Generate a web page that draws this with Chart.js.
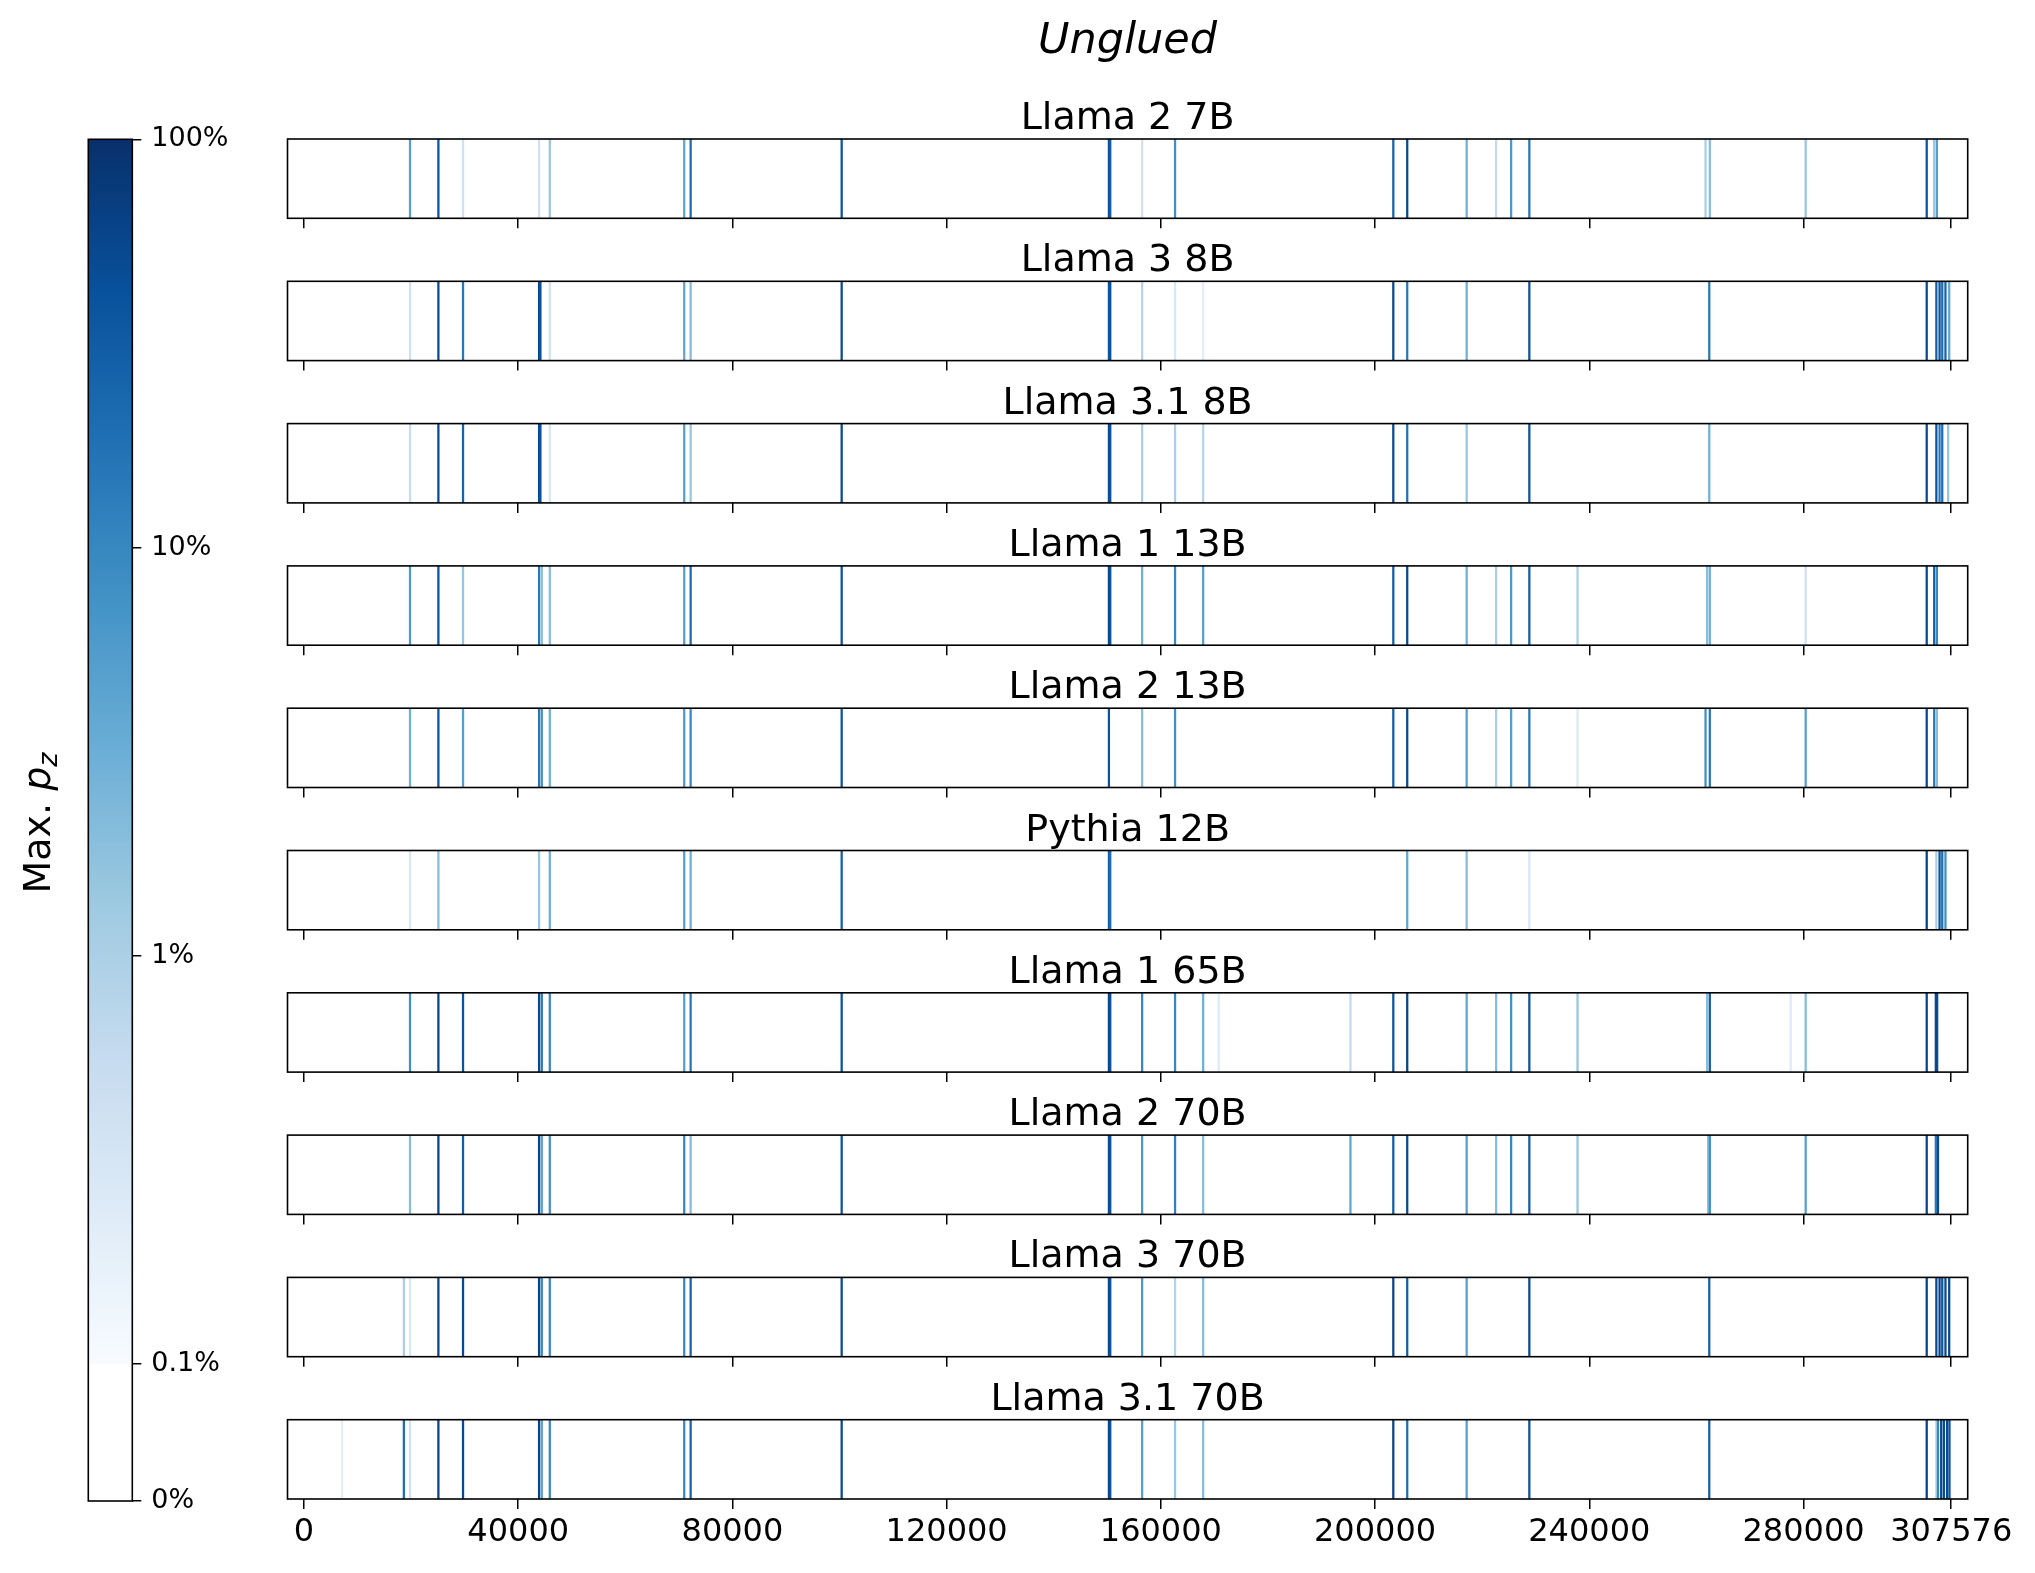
<!DOCTYPE html>
<html><head><meta charset="utf-8">
<script src="https://cdn.jsdelivr.net/npm/chart.js@4.4.1/dist/chart.umd.min.js"></script>
<style>
html,body{margin:0;padding:0;background:#fff;}
body{width:2035px;height:1573px;position:relative;overflow:hidden;}
canvas{position:absolute;left:0;}
</style></head><body>
<script>
// ---------------- data ----------------
const figureTitle = 'Unglued';
const modelNames = ['Llama 2 7B','Llama 3 8B','Llama 3.1 8B','Llama 1 13B','Llama 2 13B','Pythia 12B','Llama 1 65B','Llama 2 70B','Llama 3 70B','Llama 3.1 70B'];
const xTickValues = [0, 40000, 80000, 120000, 160000, 200000, 240000, 280000, 307576];
const colorbarTickValues = [0, 0.1, 1, 10, 100];          // percent
const colorbarTickLabels = ['0%', '0.1%', '1%', '10%', '100%'];
const colorbarLabel = 'Max. ';

// token positions and max p_z (percent) per model
const pos_llama2_7b = [19800,25100,29700,43900,45900,71000,72200,100400,150300,150550,156500,162650,203400,206000,217100,222600,225400,228800,261700,262500,280400,303000,304400,304900];
const pz_llama2_7b  = [5,40,0.4,0.4,1.5,4,20,40,50,30,0.4,8,25,50,3,0.6,6,15,1,2,1.5,40,1.5,5];

const pos_llama3_8b = [19800,25100,29700,43900,44150,45900,71000,72200,100400,150300,150550,156500,162650,167900,203400,206000,217100,228800,262400,303000,304800,305400,305900,306500,307200];
const pz_llama3_8b  = [0.4,50,15,60,40,0.4,4,2,50,40,40,0.8,0.3,0.2,50,15,3,40,15,50,30,40,20,25,4];

const pos_llama31_8b = [19800,25100,29700,43900,44150,45900,71000,72200,100400,150300,150550,156500,162650,167900,203400,206000,217100,228800,262400,303000,304800,305400,305900,307000];
const pz_llama31_8b  = [0.5,50,25,50,40,0.3,5,1.5,50,50,40,1,1,0.8,50,18,1.5,40,3,50,40,15,20,1.5];

const pos_llama1_13b = [19800,25100,29700,43900,44400,45900,71000,72200,100400,150300,150550,156500,162650,167900,203400,206000,217100,222600,225400,228800,237800,262000,262500,280400,303000,304400,304900];
const pz_llama1_13b  = [6,40,1.5,15,2,2,5,20,40,60,40,3,10,5,30,50,3,1,6,30,1,2,3,0.4,50,30,10];

const pos_llama2_13b = [19800,25100,29700,43900,44400,45900,71000,72200,100400,150300,156500,162650,203400,206000,217100,222600,225400,228800,237800,261700,262500,280400,303000,304400,304900];
const pz_llama2_13b  = [3,40,5,15,8,3,6,10,40,40,2,8,30,50,5,1,5,15,0.25,8,15,5,50,15,2];

const pos_pythia_12b = [19800,25100,43900,45900,71000,72200,100400,150300,150550,206000,217100,228800,303000,304800,305400,305900,306500];
const pz_pythia_12b  = [0.3,2,1.5,3,5,3,30,30,20,4,2,0.3,60,1,40,20,8];

const pos_llama1_65b = [19800,25100,29700,43900,44400,45900,71000,72200,100400,150300,150550,156500,162650,167900,170800,195400,203400,206000,217100,222600,225400,228800,237800,262000,262500,277600,280400,303000,304700,304950];
const pz_llama1_65b  = [8,60,40,50,15,10,5,15,40,60,40,10,10,3,0.25,0.6,40,60,4,2,8,40,1.5,2,30,0.25,2,60,50,50];

const pos_llama2_70b = [19800,25100,29700,43900,44400,45900,71000,72200,100400,150300,150550,156500,162650,167900,195400,203400,206000,217100,222600,225400,228800,237800,262200,262500,280400,303000,304700,305100];
const pz_llama2_70b  = [2,60,30,60,5,8,10,2,40,50,40,6,12,2,4,30,50,5,2,10,30,1.5,2,8,5,60,15,50];

const pos_llama3_70b = [18650,19800,25100,29700,43900,44400,45900,71000,72200,100400,150300,150550,156500,162650,167900,203400,206000,217100,228800,262400,303000,304800,305400,305900,306500,307200];
const pz_llama3_70b  = [1,0.3,60,50,60,10,10,10,25,50,60,40,6,0.8,2,60,30,5,50,30,60,50,60,40,50,50];

const pos_llama31_70b = [7100,18650,19800,25100,29700,43900,44400,45900,71000,72200,100400,150300,150550,156500,162650,167900,203400,206000,217100,228800,262400,303000,304800,305100,305700,306200,306800,307250];
const pz_llama31_70b  = [0.2,20,0.4,60,50,60,5,10,10,25,50,60,40,5,1.5,2,60,20,5,40,30,60,0.8,10,50,50,50,40];

const stripPositions = [pos_llama2_7b,pos_llama3_8b,pos_llama31_8b,pos_llama1_13b,pos_llama2_13b,pos_pythia_12b,pos_llama1_65b,pos_llama2_70b,pos_llama3_70b,pos_llama31_70b];
const stripValues = [pz_llama2_7b,pz_llama3_8b,pz_llama31_8b,pz_llama1_13b,pz_llama2_13b,pz_pythia_12b,pz_llama1_65b,pz_llama2_70b,pz_llama3_70b,pz_llama31_70b];

// ---------------- layout / style ----------------
const W = 2035, H = 1573;
const FONT = "'DejaVu Sans', 'Liberation Sans', sans-serif";
const PLOT_LEFT = 287.5, PLOT_RIGHT = 1967.7;
const STRIP_TOP0 = 139, STRIP_PITCH = 142.3, STRIP_H = 79.3;
const X_MIN = -3076, X_MAX = 310652;
const CB_LEFT = 88.3, CB_RIGHT = 132.3, CB_TOP = 139.3, CB_BOTTOM = 1501;
const CB_LIN = 137 / 1362;   // fraction of colorbar used by linear part 0..0.1%

const BLUES = ['#f7fbff','#deebf7','#c6dbef','#9ecae1','#6baed6','#4292c6','#2171b5','#08519c','#08306b'];
function hex2rgb(h){return [parseInt(h.slice(1,3),16),parseInt(h.slice(3,5),16),parseInt(h.slice(5,7),16)];}
function blues(t){
  t = Math.min(1, Math.max(0, t));
  const s = t * 8, i = Math.min(7, Math.floor(s)), f = s - i;
  const a = hex2rgb(BLUES[i]), b = hex2rgb(BLUES[i+1]);
  const c = a.map((v,k)=>Math.round(v + (b[k]-v)*f));
  return `rgb(${c[0]},${c[1]},${c[2]})`;
}
function pzColor(pct){
  const f = pct/100;
  if (f < 0.001) return '#ffffff';
  return blues((Math.log10(f)+3)/3);
}
function cbPos(pct){
  const f = pct/100;
  if (f <= 0.001) return CB_LIN * f / 0.001;
  return CB_LIN + (1-CB_LIN) * (Math.log10(f)+3)/3;
}

const framePlugin = {
  id:'frame',
  afterDatasetsDraw(chart){
    const {ctx, chartArea:a} = chart;
    ctx.save(); ctx.strokeStyle='#000'; ctx.lineWidth=1.6;
    ctx.strokeRect(a.left, a.top, a.right-a.left, a.bottom-a.top);
    ctx.restore();
  }
};

function addCanvas(top, height){
  const c = document.createElement('canvas');
  c.width = W; c.height = height;
  c.style.top = top + 'px'; c.style.width = W+'px'; c.style.height = height+'px';
  document.body.appendChild(c);
  return c;
}

// ---------------- strips ----------------
stripPositions.forEach((positions, i) => {
  const last = i === stripPositions.length - 1;
  const T = STRIP_TOP0 + i*STRIP_PITCH;
  const cssTop = Math.round(T) - 60;
  const padTop = T - cssTop;
  const axisH = last ? 64 : 14;
  const canvasH = Math.ceil(padTop + STRIP_H + axisH + 2);
  const padBottom = canvasH - padTop - STRIP_H - axisH;
  const cv = addCanvas(cssTop, canvasH);
  const vals = stripValues[i];
  const titlePlugin = {
    id:'stripTitle',
    afterDraw(chart){
      const {ctx, chartArea:a} = chart;
      ctx.save(); ctx.fillStyle='#000'; ctx.font = `38px ${FONT}`;
      ctx.textAlign='center'; ctx.textBaseline='alphabetic';
      ctx.fillText(modelNames[i], (a.left+a.right)/2, a.top - 10);
      ctx.restore();
    }
  };
  new Chart(cv, {
    type:'bar',
    data:{datasets:[{
      data: positions.map((p,k)=>({x:p, y:1})),
      backgroundColor: vals.map(pzColor),
      borderWidth:0, barThickness:1.6, grouped:false
    }]},
    options:{
      animation:false, responsive:false, devicePixelRatio:1,
      layout:{padding:{left:PLOT_LEFT, right:W-PLOT_RIGHT, top:padTop, bottom:padBottom}},
      plugins:{legend:{display:false}, tooltip:{enabled:false}, title:{display:false}},
      scales:{
        x:{type:'linear', min:X_MIN, max:X_MAX, offset:false,
           afterBuildTicks:s=>{ s.ticks = xTickValues.map(v=>({value:v})); },
           afterFit:s=>{ s.height = axisH; },
           grid:{display:true, offset:false, drawOnChartArea:false, drawTicks:true, tickLength:10, color:'#000', lineWidth:1.5},
           border:{display:false},
           ticks:{display:last, color:'#000', font:{family:FONT, size:32}, padding:4, autoSkip:false, maxRotation:0, minRotation:0,
                  callback:v=>String(v)}
        },
        y:{display:false, min:0, max:1}
      }
    },
    plugins:[framePlugin, titlePlugin]
  });
});

// ---------------- colorbar + figure title ----------------
const cbCanvas = addCanvas(0, H);
const cbPlugin = {
  id:'cbText',
  afterDraw(chart){
    const {ctx} = chart;
    ctx.save(); ctx.fillStyle='#000';
    // figure title
    ctx.font = `italic 43px ${FONT}`; ctx.textAlign='center'; ctx.textBaseline='alphabetic';
    ctx.fillText(figureTitle, (PLOT_LEFT+PLOT_RIGHT)/2, 53);
    // colorbar label, rotated
    ctx.translate(50, 823); ctx.rotate(-Math.PI/2);
    ctx.textAlign='left';
    const f1 = `38px ${FONT}`, f2 = `italic 38px ${FONT}`, f3 = `italic 27px ${FONT}`;
    ctx.font=f1; const w1 = ctx.measureText(colorbarLabel).width;
    ctx.font=f2; const w2 = ctx.measureText('p').width;
    ctx.font=f3; const w3 = ctx.measureText('z').width;
    let x = -(w1+w2+w3)/2;
    ctx.font=f1; ctx.fillText(colorbarLabel, x, 0); x += w1;
    ctx.font=f2; ctx.fillText('p', x, 0); x += w2;
    ctx.font=f3; ctx.fillText('z', x, 7);
    ctx.restore();
  }
};
new Chart(cbCanvas, {
  type:'bar',
  data:{labels:['cb'], datasets:[{
    data:[[0,1]],
    backgroundColor:(c)=>{
      const a = c.chart.chartArea; if(!a) return '#fff';
      const g = c.chart.ctx.createLinearGradient(0, a.bottom, 0, a.top);
      g.addColorStop(0, '#ffffff'); g.addColorStop(CB_LIN, '#ffffff');
      for (let k=0;k<BLUES.length;k++){
        const p = CB_LIN + (1-CB_LIN)*k/8 + (k===0?0.0005:0);
        g.addColorStop(Math.min(1,p), BLUES[k]);
      }
      return g;
    },
    borderWidth:0, barPercentage:1, categoryPercentage:1
  }]},
  options:{
    animation:false, responsive:false, devicePixelRatio:1,
    layout:{padding:{left:CB_LEFT, top:CB_TOP, bottom:H-CB_BOTTOM, right:W-CB_RIGHT-100}},
    plugins:{legend:{display:false}, tooltip:{enabled:false}},
    scales:{
      x:{display:false, offset:true},
      y:{position:'right', min:0, max:1,
         afterBuildTicks:s=>{ s.ticks = colorbarTickValues.map(v=>({value:cbPos(v)})); },
         afterFit:s=>{ s.width = 100; },
         grid:{drawOnChartArea:false, drawTicks:true, tickLength:9, color:'#000', lineWidth:1.5},
         border:{display:false},
         ticks:{autoSkip:false, color:'#000', font:{family:FONT, size:27}, padding:10,
                callback:(v,idx)=>colorbarTickLabels[idx]}
      }
    }
  },
  plugins:[framePlugin, cbPlugin]
});
</script>
</body></html>
